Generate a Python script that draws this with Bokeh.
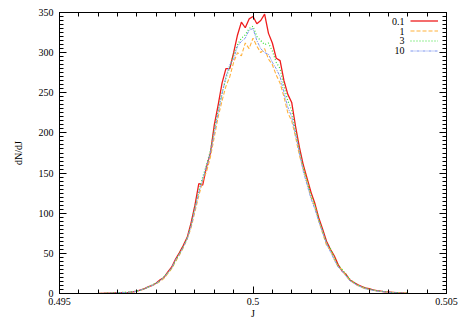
from bokeh.plotting import figure
from bokeh.models import (LinearAxis, Range1d, Legend, LegendItem, Label,
                          FixedTicker, CustomJSTickFormatter)
from bokeh.core.properties import value
from bokeh.embed import file_html
from bokeh.resources import INLINE

# bin centres J (0.4960 .. 0.5040, step 0.0001)
J = [round(0.4960 + 0.0001 * i, 4) for i in range(81)]

series_labels = ["0.1", "1", "3", "10"]

dn_01 = [0, 0, 0.3, 0.5, 0.8, 1, 1, 1.2, 1.5, 2,
         3, 4.5, 6, 8.5, 10, 13, 17, 20, 27, 33,
         43, 51, 60, 70, 88, 110, 137, 135, 158, 175,
         210, 235, 262, 280, 280, 300, 322, 338, 331, 342,
         345, 336, 340, 348, 324, 312, 293, 290, 265, 248,
         238, 208, 182, 160, 143, 126, 112, 94, 80, 65,
         55, 47, 36, 28, 24, 17, 14, 11, 9, 7,
         6, 4.5, 3.5, 3, 2, 2, 1.5, 1, 1, 0.5, 0.3]

dn_1 = [0, 0.2, 0.2, 0.6, 0.7, 1.2, 1.1, 1.4, 1.6, 2.2,
        2.8, 4, 5.5, 8, 10, 12, 15, 19, 25, 31,
        40, 48, 57, 68, 82, 102, 122, 140, 152, 170,
        195, 220, 240, 258, 270, 288, 300, 296, 312, 305,
        318, 308, 300, 305, 292, 285, 272, 262, 245, 225,
        215, 195, 172, 155, 138, 120, 108, 90, 75, 60,
        54, 43, 33, 30, 22, 17, 13, 10, 8, 6,
        5, 4, 3.2, 2.5, 2.2, 1.6, 1.4, 1, 0.8, 0.6, 0.2]

dn_3 = [0.2, 0, 0.4, 0.4, 0.9, 0.9, 1.3, 1.3, 1.8, 2.1,
        3.2, 4.2, 6, 8, 11, 13, 16, 21, 26, 32,
        41, 50, 59, 69, 86, 108, 128, 145, 160, 178,
        205, 228, 250, 268, 282, 298, 310, 318, 322, 330,
        333, 320, 315, 310, 312, 302, 288, 280, 258, 240,
        228, 202, 178, 157, 140, 122, 110, 92, 78, 63,
        56, 45, 35, 30, 24, 18, 14, 11, 8.5, 7,
        5.5, 4.5, 3.5, 2.8, 2.4, 1.8, 1.2, 1.2, 0.7, 0.4, 0.4]

dn_10 = [0, 0.1, 0.3, 0.5, 0.6, 1, 1.2, 1.1, 1.7, 2,
         3, 4.3, 5.8, 8.2, 10, 12.5, 16, 20, 26, 32,
         42, 49, 58, 68, 84, 105, 126, 142, 158, 175,
         200, 225, 248, 270, 285, 292, 308, 314, 318, 328,
         330, 315, 305, 300, 298, 288, 280, 270, 250, 232,
         220, 198, 175, 152, 135, 118, 105, 90, 76, 62,
         52, 42, 33, 28, 22, 16, 13, 10, 8, 6,
         5, 4, 3, 2.6, 2, 1.6, 1.2, 0.9, 0.7, 0.4, 0.2]

x_major = [0.495, 0.5, 0.505]
x_minor = [round(0.495 + 0.0005 * i, 4) for i in range(21)]
y_major = [0, 50, 100, 150, 200, 250, 300, 350]
y_minor = list(range(0, 351, 5))

FONT = "Liberation Serif"

p = figure(width=463, height=324, output_backend="svg", toolbar_location=None,
           x_range=Range1d(0.495, 0.505), y_range=Range1d(0, 350),
           min_border_left=59, min_border_right=17, min_border_top=12,
           min_border_bottom=31)
p.background_fill_color = "white"
p.border_fill_color = "white"
p.outline_line_color = "black"
p.outline_line_width = 1
p.xgrid.visible = False
p.ygrid.visible = False

fmt = CustomJSTickFormatter(code="return tick.toFixed(4).replace(/0+$/, '');")
blank = CustomJSTickFormatter(code="return '';")

def style_axis(ax):
    ax.axis_line_color = "black"
    ax.major_tick_in = 7
    ax.major_tick_out = 0
    ax.minor_tick_in = 4
    ax.minor_tick_out = 0
    ax.major_tick_line_color = "black"
    ax.minor_tick_line_color = "black"
    ax.major_label_text_font = FONT
    ax.major_label_text_font_size = "10px"
    ax.major_label_text_color = "black"
    ax.axis_label_text_font = FONT
    ax.axis_label_text_font_size = "10px"
    ax.axis_label_text_font_style = "normal"
    ax.axis_label_text_color = "black"

xa = p.xaxis[0]
xa.ticker = FixedTicker(ticks=x_major, minor_ticks=x_minor)
xa.formatter = fmt
xa.axis_label = "J"
style_axis(xa)
xa.major_label_standoff = 4
xa.axis_label_standoff = 0

ya = p.yaxis[0]
ya.ticker = FixedTicker(ticks=y_major, minor_ticks=y_minor)
ya.axis_label = "dN/dJ"
style_axis(ya)
ya.major_label_standoff = 6
ya.axis_label_standoff = 12

top = LinearAxis(ticker=FixedTicker(ticks=x_major, minor_ticks=x_minor),
                 formatter=blank)
style_axis(top)
top.major_label_standoff = 0
right = LinearAxis(ticker=FixedTicker(ticks=y_major, minor_ticks=y_minor),
                   formatter=blank)
style_axis(right)
right.major_label_standoff = 0
p.add_layout(top, "above")
p.add_layout(right, "right")

styles = [
    ("#ee1c1c", "solid", 1.3, dn_01),
    ("#ffb13b", "4 2", 1.1, dn_1),
    ("#33dd33", "1 2", 1.2, dn_3),
    ("#7d95ee", "3 1 1 1", 1.0, dn_10),
]
renderers = []
for color, dash, w, ys in styles:
    r = p.line(J, ys, line_color=color, line_dash=dash, line_width=w)
    renderers.append(r)

items = [LegendItem(label=value(""), renderers=[r]) for r in renderers]
legend = Legend(items=items, location=(351, 238), glyph_width=28,
                glyph_height=9, label_height=9, label_width=0, spacing=1,
                padding=0, label_standoff=0, label_text_font_size="10px",
                border_line_color=None, background_fill_alpha=0,
                margin=0)
p.add_layout(legend)

for i, lab in enumerate(series_labels):
    p.add_layout(Label(x=345, y=272 - 9.7 * i, x_units="screen", y_units="screen",
                       text=lab, text_align="right", text_baseline="middle",
                       text_font=FONT, text_font_size="10px", text_color="black"))

open("out.html", "w").write(file_html(p, INLINE))
